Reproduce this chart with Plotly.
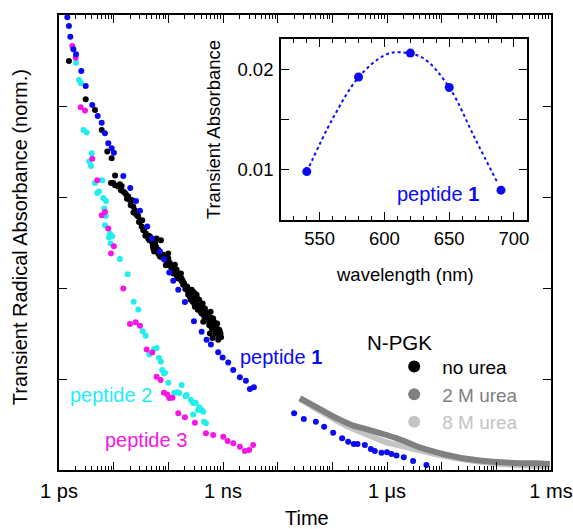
import plotly.graph_objects as go

# ---------------- main panel data (time in ps, normalized absorbance) -------------
nourea_t = [1.52, 3.08, 4.55, 6.04, 7.64, 9.19, 10.6, 9.84, 8.93, 10.6, 12.1, 14.0, 13.6, 16.1, 18.5,
            19.9, 21.9, 22.8, 24.5, 27.5, 28.1, 33.3, 30.3, 32.5, 34.8, 38.9, 42.9, 46.1, 49.5, 56.9,
            61.1, 53.0, 65.4, 70.2, 73.2, 80.7, 86.7, 99.6, 107, 115, 132, 123, 142, 163, 175, 152,
            187, 222, 267, 306, 248, 338, 231, 256, 285, 329, 367, 424, 378, 306, 406, 467, 501, 536,
            593, 619, 662, 711, 783, 764, 853, 878, 817, 435, 576, 646,
            175, 195, 210, 240, 280, 300, 350, 390, 450, 480, 520, 560, 600, 640, 690, 740, 800, 900,
            55, 60, 45, 38, 26, 17, 90, 100, 120, 145,
            13, 15, 17.5, 20.5, 23, 26, 29, 36, 44, 52, 58, 66, 75, 88, 95, 110, 125, 140, 170, 185,
            205, 230, 260, 290, 320, 345, 410, 460, 510, 550, 580, 620, 680, 720, 760, 840, 870, 920]
nourea_v = [0.899, 0.815, 0.791, 0.747, 0.700, 0.685, 0.647, 0.631, 0.631, 0.626, 0.623, 0.624, 0.615,
            0.609, 0.601, 0.593, 0.593, 0.579, 0.571, 0.558, 0.557, 0.549, 0.546, 0.535, 0.527, 0.520,
            0.509, 0.513, 0.502, 0.495, 0.509, 0.487, 0.484, 0.469, 0.505, 0.473, 0.462, 0.476, 0.455,
            0.443, 0.451, 0.432, 0.440, 0.429, 0.421, 0.421, 0.407, 0.403, 0.396, 0.388, 0.381, 0.377,
            0.385, 0.374, 0.392, 0.385, 0.374, 0.366, 0.355, 0.359, 0.344, 0.355, 0.341, 0.330, 0.348,
            0.322, 0.333, 0.315, 0.322, 0.304, 0.308, 0.293, 0.286, 0.326, 0.300, 0.290,
            0.415, 0.410, 0.398, 0.392, 0.370, 0.365, 0.362, 0.348, 0.338, 0.328, 0.345, 0.318, 0.335,
            0.310, 0.325, 0.300, 0.298, 0.300,
            0.480, 0.490, 0.505, 0.515, 0.565, 0.605, 0.450, 0.465, 0.445, 0.425,
            0.628, 0.612, 0.596, 0.582, 0.566, 0.561, 0.545, 0.530, 0.515, 0.493, 0.500, 0.475, 0.468,
            0.470, 0.452, 0.448, 0.438, 0.430, 0.432, 0.415, 0.398, 0.392, 0.385, 0.380, 0.370, 0.352,
            0.360, 0.345, 0.335, 0.338, 0.322, 0.312, 0.310, 0.322, 0.312, 0.296, 0.305, 0.292]

pep1_t = [1.42, 1.52, 1.61, 1.83, 2.05, 2.56, 3.08, 4.06, 5.10, 6.04, 6.93, 7.97, 9.19, 10.1, 15.0,
          20.1, 25.6, 30.3, 41.1, 50.6, 70.2, 83.1, 104, 123, 152, 201, 294, 406, 501, 601, 817, 984,
          1246, 1536, 2037, 2622, 3104, 3673,
          2.00e4, 3.01e4, 4.99e4, 7.08e4, 1.035e5, 1.51e5, 1.95e5, 2.47e5, 2.89e5, 3.93e5, 5.06e5,
          5.98e5, 7.93e5, 1.00e6, 1.21e6, 1.49e6, 2.03e6, 3.00e6, 5.27e6]
pep1_v = [0.995, 0.976, 0.952, 0.925, 0.914, 0.877, 0.844, 0.802, 0.778, 0.763, 0.740, 0.718, 0.707,
          0.697, 0.646, 0.620, 0.591, 0.570, 0.535, 0.509, 0.480, 0.463, 0.434, 0.416, 0.396, 0.369,
          0.327, 0.304, 0.286, 0.276, 0.259, 0.247, 0.236, 0.220, 0.204, 0.196, 0.178, 0.182,
          0.125, 0.112, 0.106, 0.095, 0.082, 0.070, 0.062, 0.057, 0.057, 0.055, 0.046, 0.042, 0.038,
          0.039, 0.035, 0.032, 0.028, 0.020, 0.011]

pep2_t = [2.05, 2.32, 2.52, 2.81, 3.21, 3.96, 3.58, 3.85, 6.19, 4.55, 5.01, 5.39, 6.45, 7.23, 6.73,
          7.14, 6.93, 8.56, 8.20, 9.43, 8.81, 13.0, 18.0, 23.2, 28.2, 33.9, 38.5, 44.8, 54.6, 61.1,
          67.3, 73.2, 77.3, 83.1, 86.7, 99.6, 128, 146, 175, 158, 207, 216, 259, 285, 315, 367, 406,
          435, 285, 352, 448, 487]
pep2_v = [0.895, 0.857, 0.850, 0.747, 0.742, 0.696, 0.678, 0.668, 0.637, 0.631, 0.609, 0.612, 0.598,
          0.591, 0.575, 0.558, 0.538, 0.519, 0.511, 0.514, 0.498, 0.464, 0.430, 0.370, 0.353, 0.305,
          0.295, 0.254, 0.266, 0.268, 0.246, 0.238, 0.220, 0.212, 0.214, 0.192, 0.170, 0.171, 0.187,
          0.169, 0.162, 0.165, 0.154, 0.147, 0.148, 0.138, 0.132, 0.128, 0.122, 0.132, 0.106, 0.103]

pep3_t = [1.75, 2.02, 2.49, 2.99, 4.06, 5.01, 6.93, 6.04, 7.97, 10.1, 8.93, 15.0, 19.9, 25.2, 30.3,
          40.1, 50.8, 61.1, 72.3, 83.1, 95.5, 104, 119, 152, 201, 306, 487, 662, 1009, 1213, 1536,
          2037, 2512, 3013, 3565]
pep3_v = [0.932, 0.906, 0.797, 0.790, 0.684, 0.637, 0.567, 0.560, 0.531, 0.492, 0.476, 0.399, 0.321,
          0.325, 0.317, 0.265, 0.258, 0.205, 0.198, 0.170, 0.166, 0.158, 0.159, 0.125, 0.116, 0.104,
          0.081, 0.077, 0.073, 0.064, 0.059, 0.051, 0.042, 0.044, 0.055]

urea_t = [2.55e4, 5.50e4, 1.11e5, 2.24e5, 4.52e5, 9.12e5, 1.84e6, 3.71e6, 7.48e6, 1.51e7, 3.04e7,
          6.14e7, 1.24e8, 2.49e8, 5.04e8, 9.5e8]
urea2_v = [0.158, 0.136, 0.116, 0.099, 0.089, 0.078, 0.066, 0.051, 0.040, 0.031, 0.024, 0.020,
           0.017, 0.015, 0.015, 0.013]
urea8_v = [0.156, 0.132, 0.111, 0.092, 0.077, 0.062, 0.053, 0.044, 0.035, 0.028, 0.022, 0.017,
           0.013, 0.011, 0.009, 0.009]

time_tick_vals = [1, 1e3, 1e6, 1e9]
time_tick_text = ["1 ps", "1 ns", "1 \u03bcs", "1 ms"]

# ---------------- inset data ----------------
wl = [540, 580, 620, 650, 690]
ta = [0.00983, 0.01924, 0.02161, 0.01819, 0.00799]
fit_wl = [540, 560, 580, 600, 612, 630, 650, 670, 687]
fit_ta = [0.0098, 0.0151, 0.0192, 0.0214, 0.0217, 0.0211, 0.0182, 0.0131, 0.0088]

BLUE = "#0a0af5"
CYAN = "#22eeee"
MAGENTA = "#f516e6"
DARK = "#808080"
LIGHT = "#c4c4c4"
FONT = "Liberation Sans, Arial, sans-serif"

fig = go.Figure()
fig.add_trace(go.Scatter(x=urea_t, y=urea8_v, mode="lines", line=dict(color=LIGHT, width=6, shape="spline"),
                         showlegend=False))
fig.add_trace(go.Scatter(x=urea_t, y=urea2_v, mode="lines", line=dict(color=DARK, width=6, shape="spline"),
                         showlegend=False))
fig.add_trace(go.Scatter(x=nourea_t, y=nourea_v, mode="markers", marker=dict(color="black", size=6),
                         showlegend=False))
fig.add_trace(go.Scatter(x=pep2_t, y=pep2_v, mode="markers", marker=dict(color=CYAN, size=6),
                         showlegend=False))
fig.add_trace(go.Scatter(x=pep3_t, y=pep3_v, mode="markers", marker=dict(color=MAGENTA, size=6),
                         showlegend=False))
fig.add_trace(go.Scatter(x=pep1_t, y=pep1_v, mode="markers", marker=dict(color=BLUE, size=6),
                         showlegend=False))

# legend entries
for name, col in [("no urea", "black"),
                  ("<span style='color:%s'>2 M urea</span>" % DARK, DARK),
                  ("<span style='color:%s'>8 M urea</span>" % LIGHT, LIGHT)]:
    fig.add_trace(go.Scatter(x=[None], y=[None], mode="markers", marker=dict(color=col, size=8),
                             name=name, showlegend=True))

# inset
fig.add_trace(go.Scatter(x=fit_wl, y=fit_ta, mode="lines", xaxis="x2", yaxis="y2",
                         line=dict(color=BLUE, width=2, dash="dot", shape="spline"), showlegend=False))
fig.add_trace(go.Scatter(x=wl, y=ta, mode="markers", xaxis="x2", yaxis="y2",
                         marker=dict(color=BLUE, size=9), showlegend=False))

minor_main = [m * 10 ** k for k in range(9) for m in range(2, 10)]
axis_common = dict(showline=True, linecolor="black", linewidth=1.5, mirror="ticks", ticks="inside",
                   tickcolor="black", showgrid=False, zeroline=False, automargin=False)

fig.update_layout(
    template="none",
    width=573, height=529,
    margin=dict(l=59, r=22, t=15, b=59, autoexpand=False),
    paper_bgcolor="white", plot_bgcolor="white",
    font=dict(family=FONT, size=20, color="black"),
    xaxis=dict(type="log", range=[0, 9], tickmode="array",
               tickvals=[10 ** k for k in range(10)],
               ticktext=[time_tick_text[time_tick_vals.index(10 ** k)] if 10 ** k in time_tick_vals else ""
                         for k in range(10)],
               ticklen=8, tickwidth=1.2, ticklabelstandoff=2,
               tickfont=dict(size=20),
               minor=dict(tickmode="array", tickvals=minor_main, ticks="inside", ticklen=4,
                          tickwidth=1, tickcolor="black"),
               **axis_common),
    yaxis=dict(range=[0, 1], tickmode="array", tickvals=[0.2, 0.4, 0.6, 0.8], showticklabels=False,
               ticklen=8, tickwidth=1.2, **axis_common),
    xaxis2=dict(domain=[0.451, 0.951], anchor="y2", range=[520, 710], tickmode="array",
                tickvals=[550, 600, 650, 700], ticklen=8, tickwidth=1.2,
                tickfont=dict(size=18.5), ticklabelstandoff=1,
                minor=dict(tickmode="array", tickvals=list(range(530, 711, 10)), ticks="inside",
                           ticklen=4, tickwidth=1, tickcolor="black"),
                **axis_common),
    yaxis2=dict(domain=[0.549, 0.947], anchor="x2", range=[0.005, 0.023], tickmode="array",
                tickvals=[0.01, 0.015, 0.02], ticktext=["0.01", "", "0.02"], ticklen=8, tickwidth=1.2,
                tickfont=dict(size=18.5), ticklabelstandoff=2, **axis_common),
    showlegend=True,
    legend=dict(x=0.665, y=0.269, xanchor="left", yanchor="top", bgcolor="rgba(0,0,0,0)",
                font=dict(size=19), tracegroupgap=0, itemsizing="constant", itemwidth=46),
)

ann = [
    dict(text="Transient Radical Absorbance (norm.)", x=-0.079, y=0.512, textangle=-90,
         font=dict(size=20)),
    dict(text="Time", x=0.504, y=-0.106, font=dict(size=20)),
    dict(text="Transient Absorbance", x=0.313, y=0.749, textangle=-90, font=dict(size=18.5)),
    dict(text="wavelength (nm)", x=0.703, y=0.429, font=dict(size=18.5)),
]
for a in ann:
    fig.add_annotation(xref="paper", yref="paper", showarrow=False, xanchor="center", yanchor="middle", **a)

labels = [
    ("peptide <b>1</b>", 0.364, 0.248, BLUE, 20),
    ("peptide 2", 0.018, 0.165, CYAN, 20),
    ("peptide 3", 0.089, 0.066, MAGENTA, 20),
    ("peptide <b>1</b>", 0.683, 0.607, BLUE, 20),
    ("N-PGK", 0.622, 0.281, "black", 20.5),
]
for txt, x, y, col, sz in labels:
    fig.add_annotation(xref="paper", yref="paper", x=x, y=y, text=txt, showarrow=False,
                       xanchor="left", yanchor="middle", font=dict(color=col, size=sz))

fig.write_html("out.html", config={"displayModeBar": False},
               post_script="document.body.style.margin='0';")
